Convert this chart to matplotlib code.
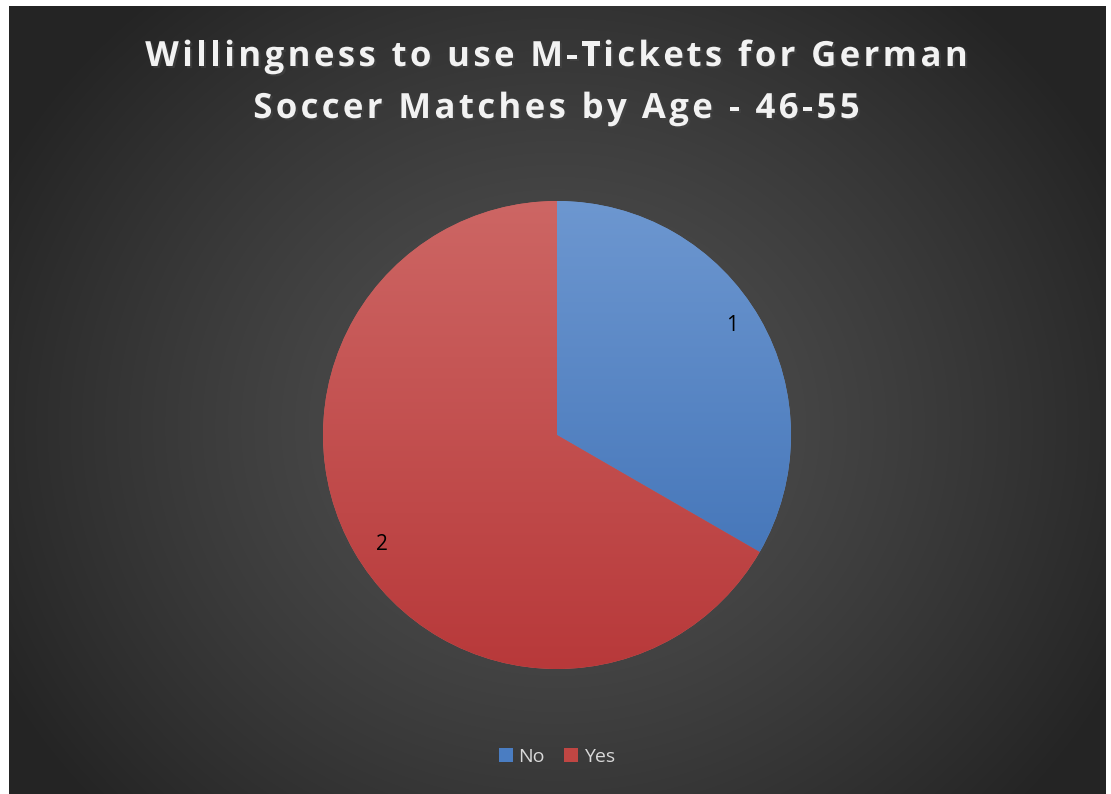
import matplotlib.pyplot as plt
import matplotlib.patheffects as pe
from matplotlib.patches import Patch
from matplotlib.colors import to_rgb
import numpy as np

labels = ['No', 'Yes']
values = [1, 2]
# top / bottom shade of each slice
top_colors = ['#6d97d0', '#cd6664']
bottom_colors = ['#3a6db3', '#b8393a']
title_lines = ['Willingness to use M-Tickets for German',
               'Soccer Matches by Age - 46-55']

plt.rcParams['font.family'] = ['Open Sans', 'DejaVu Sans']

W, H = 1111, 794
fig = plt.figure(figsize=(W / 100, H / 100), dpi=100)
fig.patch.set_facecolor('white')

# dark radial background
bg = fig.add_axes([9/W, 0, 1097/W, 788/H])
bg.set_axis_off()
h, w = 788, 1097
yy, xx = np.mgrid[0:h, 0:w]
cx, cy = 548, 420
d = np.sqrt(((xx - cx) / 620.0) ** 2 + ((yy - cy) / 560.0) ** 2)
d = np.clip(d, 0, 1)
lvl = 0.32 - 0.175 * d ** 1.3
img = np.dstack([lvl, lvl, lvl])
bg.imshow(img, aspect='auto', extent=[0, 1, 0, 1], interpolation='bilinear')
bg.set_xlim(0, 1)
bg.set_ylim(0, 1)

# pie
ax = fig.add_axes([323/W, 125/H, 468/W, 468/H])
ax.set_axis_off()
wedges, texts = ax.pie(values, startangle=90, counterclock=False,
                       labels=[str(v) for v in values], labeldistance=0.87,
                       colors=top_colors, wedgeprops=dict(linewidth=0),
                       textprops=dict(color='black', fontsize=15))

grad = np.linspace(0, 1, 256)[:, None]
for wdg, c0, c1 in zip(wedges, top_colors, bottom_colors):
    a = np.array(to_rgb(c0))
    b = np.array(to_rgb(c1))
    col = a[None, None, :] * (1 - grad[:, :, None]) + b[None, None, :] * grad[:, :, None]
    col = np.repeat(col, 2, axis=1)
    im = ax.imshow(col, extent=[-1, 1, -1, 1], origin='upper', aspect='auto',
                   zorder=wdg.get_zorder() + 0.5, interpolation='bilinear')
    im.set_clip_path(wdg)

# nudge the labels a little past the slice middle
for t, wdg in zip(texts, wedges):
    mid = np.deg2rad((wdg.theta1 + wdg.theta2) / 2 + 3)
    t.set_position((0.86 * np.cos(mid), 0.86 * np.sin(mid)))
    t.set_zorder(5)
ax.set_xlim(-1, 1)
ax.set_ylim(-1, 1)

# title, drawn char by char to get the wide letter spacing
renderer = fig.canvas.get_renderer()
tracking = 3.4
shadow = [pe.SimplePatchShadow(offset=(1.5, -1.5), alpha=0.5), pe.Normal()]
tkw = dict(fontsize=25, fontweight='bold', color='#f2f2f2')


def text_width(s):
    t = fig.text(0, 0, s, **tkw)
    wd = t.get_window_extent(renderer).width
    t.remove()
    return wd


bar_w = text_width('|')
for line, base in zip(title_lines, [66, 118]):
    xs = [text_width(line[:i] + '|') - bar_w for i in range(len(line))]
    xs = [x + i * tracking for i, x in enumerate(xs)]
    total = text_width(line) + (len(line) - 1) * tracking
    x0 = 556.5 - total / 2
    for ch, x in zip(line, xs):
        if ch == ' ':
            continue
        fig.text((x0 + x) / W, 1 - base / H, ch, ha='left', va='baseline',
                 path_effects=shadow, **tkw)

handles = [Patch(facecolor=c, edgecolor='none') for c in ['#4a7dc2', '#c04643']]
leg = fig.legend(handles, labels, loc='center', bbox_to_anchor=(557/W, 1 - 757/H),
                 ncol=2, frameon=False, fontsize=14, handlelength=0.7, handleheight=0.7,
                 handletextpad=0.3, columnspacing=1.0, labelcolor='#d9d9d9')

fig.savefig('out.png', dpi=100, facecolor='white')
